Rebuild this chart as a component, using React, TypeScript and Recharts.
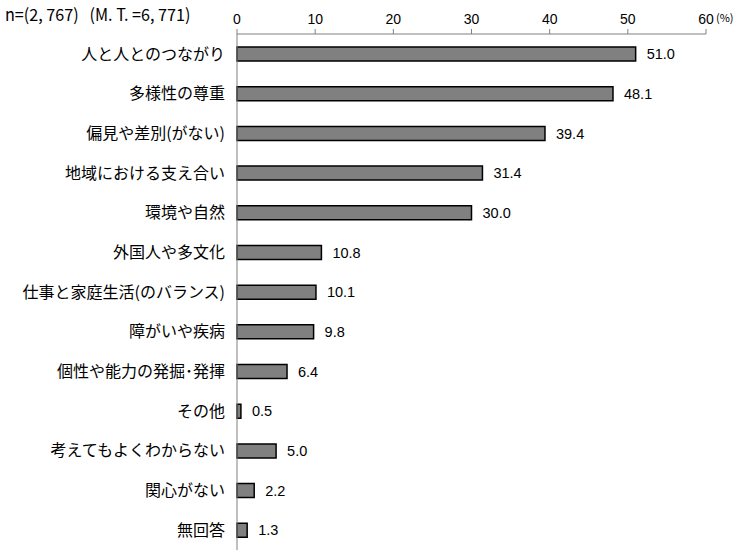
import React from "react";
import { BarChart, Bar, XAxis, YAxis, LabelList } from "recharts";

const categories = [
  "人と人とのつながり",
  "多様性の尊重",
  "偏見や差別(がない)",
  "地域における支え合い",
  "環境や自然",
  "外国人や多文化",
  "仕事と家庭生活(のバランス)",
  "障がいや疾病",
  "個性や能力の発掘･発揮",
  "その他",
  "考えてもよくわからない",
  "関心がない",
  "無回答",
];
const values = [51.0, 48.1, 39.4, 31.4, 30.0, 10.8, 10.1, 9.8, 6.4, 0.5, 5.0, 2.2, 1.3];
const xTicks = [0, 10, 20, 30, 40, 50, 60];
const header = "n=(2, 767)   (M. T. =6, 771)";

const data = categories.map((c, i) => ({ name: c, value: values[i] }));

const jp = "'Noto Sans CJK JP', 'Noto Sans', sans-serif";
const latin = "'Liberation Sans', Arial, sans-serif";

export default function App() {
  return (
    <div style={{ position: "relative", width: 740, height: 554, background: "#fff" }}>
      <style>{"body{margin:0}"}</style>
      <div
        style={{
          position: "absolute",
          left: 5,
          top: 4,
          fontFamily: jp,
          fontSize: 17,
          lineHeight: "20px",
          color: "#000",
          whiteSpace: "pre",
          transform: "scaleX(0.95)",
          transformOrigin: "left top",
        }}
      >
        {header}
      </div>
      <div style={{ position: "absolute", left: 716, top: 9, fontFamily: jp, fontSize: 11, color: "#000" }}>(%)</div>
      <BarChart
        width={740}
        height={554}
        data={data}
        layout="vertical"
        margin={{ top: 33, right: 34, bottom: 4, left: 0 }}
        barCategoryGap={13}
      >
        <XAxis
          type="number"
          orientation="top"
          domain={[0, 60]}
          ticks={xTicks}
          interval={0}
          tickSize={5}
          height={1}
          stroke="#808080"
          tick={{ fill: "#000", fontSize: 14, fontFamily: latin }}
          tickMargin={5}
        />
        <YAxis
          type="category"
          dataKey="name"
          width={237}
          tickLine={false}
          stroke="#808080"
          interval={0}
          tickMargin={6}
          tick={{ fill: "#000", fontSize: 16, fontFamily: jp }}
        />
        <Bar dataKey="value" fill="#808080" stroke="#000" strokeWidth={1.5} isAnimationActive={false}>
          <LabelList
            dataKey="value"
            position="right"
            offset={11}
            formatter={(v: number) => v.toFixed(1)}
            style={{ fill: "#000", fontSize: 14.5, fontFamily: latin }}
          />
        </Bar>
      </BarChart>
    </div>
  );
}
